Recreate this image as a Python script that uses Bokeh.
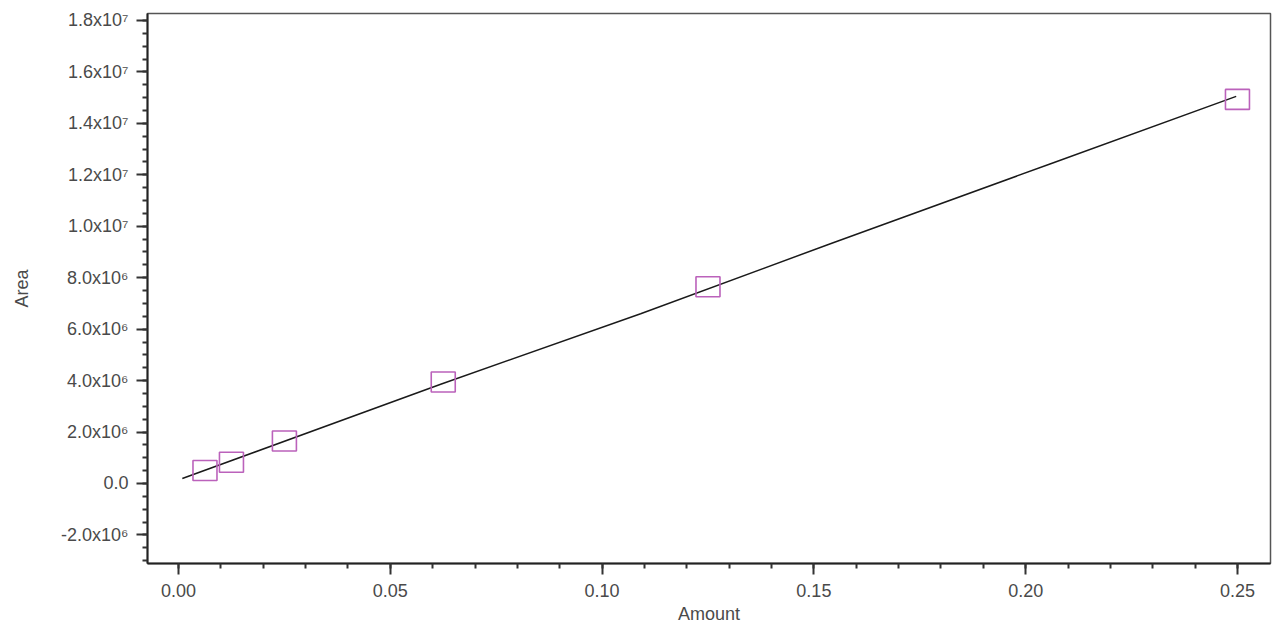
from bokeh.plotting import figure
from bokeh.models import Range1d, FixedTicker, ColumnDataSource
from bokeh.embed import file_html
from bokeh.resources import INLINE

# Calibration standards (squares)
amount = [0.00625, 0.0125, 0.025, 0.0625, 0.125, 0.25]
area = [5.05e5, 8.28e5, 1.651e6, 3.943e6, 7.646e6, 1.493e7]

# Calibration curve
curve_amount = [0.0009, 0.0619, 0.1091, 0.1539, 0.2059, 0.2497]
curve_area = [1.94e5, 3.86e6, 6.60e6, 9.32e6, 1.243e7, 1.505e7]

x_ticks = [0.00, 0.05, 0.10, 0.15, 0.20, 0.25]
x_tick_labels = ["0.00", "0.05", "0.10", "0.15", "0.20", "0.25"]
y_ticks = [-2e6, 0, 2e6, 4e6, 6e6, 8e6, 1e7, 1.2e7, 1.4e7, 1.6e7, 1.8e7]
y_tick_labels = ["-2.0x10\u2076", "0.0", "2.0x10\u2076", "4.0x10\u2076", "6.0x10\u2076",
                 "8.0x10\u2076", "1.0x10\u2077", "1.2x10\u2077", "1.4x10\u2077",
                 "1.6x10\u2077", "1.8x10\u2077"]

p = figure(width=1272, height=630, output_backend="svg", toolbar_location=None,
           x_range=Range1d(-0.00732, 0.2578), y_range=Range1d(-3.11e6, 1.827e7),
           min_border_left=147, min_border_top=13, min_border_right=2, min_border_bottom=67)
p.background_fill_color = "white"
p.border_fill_color = "white"
p.outline_line_color = "#555555"
p.outline_line_width = 1.5
p.xgrid.visible = False
p.ygrid.visible = False

src_c = ColumnDataSource(dict(x=curve_amount, y=curve_area))
p.line("x", "y", source=src_c, line_color="#1a1a1a", line_width=1.5)

src_p = ColumnDataSource(dict(x=amount, y=area))
p.rect("x", "y", source=src_p, width=24, height=20, width_units="screen",
       height_units="screen", fill_color=None, line_color="#BB62BB", line_width=1.6)

font = "Liberation Sans"
for ax in (p.xaxis[0], p.yaxis[0]):
    ax.axis_line_color = "#222222"
    ax.axis_line_width = 2
    ax.major_tick_line_color = "#333333"
    ax.minor_tick_line_color = "#333333"
    ax.major_tick_line_width = 2
    ax.minor_tick_line_width = 2
    ax.major_tick_out = 11
    ax.major_tick_in = 0
    ax.minor_tick_out = 5
    ax.minor_tick_in = 0
    ax.major_label_text_font = font
    ax.major_label_text_font_size = "18px"
    ax.major_label_text_color = "#4a4a4a"
    ax.axis_label_text_font = font
    ax.axis_label_text_font_size = "18px"
    ax.axis_label_text_font_style = "normal"
    ax.axis_label_text_color = "#4a4a4a"

p.xaxis.ticker = FixedTicker(ticks=x_ticks,
                             minor_ticks=[i * 0.01 for i in range(0, 26)])
p.xaxis.major_label_overrides = {t: l for t, l in zip(x_ticks, x_tick_labels)}
p.xaxis.axis_label = "Amount"
p.xaxis.major_label_standoff = 9
p.xaxis.axis_label_standoff = 4

p.yaxis.ticker = FixedTicker(ticks=y_ticks,
                             minor_ticks=[-3e6 + i * 5e5 for i in range(0, 43)])
p.yaxis.major_label_overrides = {t: l for t, l in zip(y_ticks, y_tick_labels)}
p.yaxis.axis_label = "Area"
p.yaxis.major_label_standoff = 8
p.yaxis.axis_label_standoff = 26

open("out.html", "w").write(file_html(p, INLINE))
